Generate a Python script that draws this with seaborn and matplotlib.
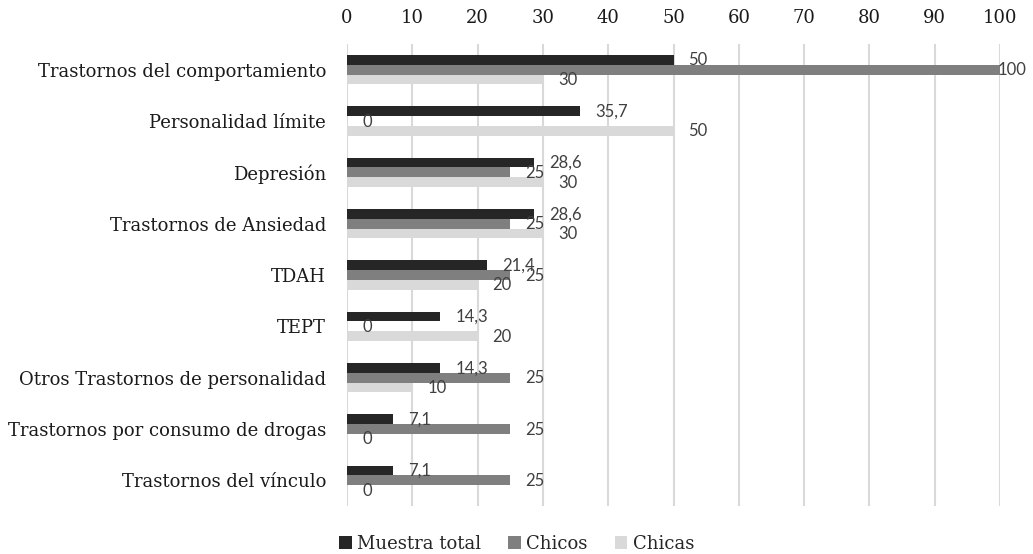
import matplotlib
matplotlib.use("Agg")
import matplotlib.pyplot as plt
import seaborn as sns
import pandas as pd

# Diagnoses and percentages per group
categories = [
    "Trastornos del comportamiento",
    "Personalidad límite",
    "Depresión",
    "Trastornos de Ansiedad",
    "TDAH",
    "TEPT",
    "Otros Trastornos de personalidad",
    "Trastornos por consumo de drogas",
    "Trastornos del vínculo",
]
muestra_total = [50, 35.7, 28.6, 28.6, 21.4, 14.3, 14.3, 7.1, 7.1]
chicos = [100, 0, 25, 25, 25, 0, 25, 25, 25]
chicas = [30, 50, 30, 30, 20, 20, 10, 0, 0]
groups = ["Muestra total", "Chicos", "Chicas"]
colors = ["#262626", "#7f7f7f", "#d9d9d9"]
x_ticks = list(range(0, 101, 10))

rows = []
for g, vals in zip(groups, [muestra_total, chicos, chicas]):
    for c, v in zip(categories, vals):
        rows.append({"Diagnóstico": c, "Grupo": g, "Valor": v})
df = pd.DataFrame(rows)

sns.set_theme(style="white")
serif = ["DejaVu Serif"]
sans = ["Lato", "DejaVu Sans"]

fig = plt.figure(figsize=(10.33, 5.54), dpi=100)
ax = fig.add_axes([0.3359, 0.0866, 0.6322, 0.834])

sns.barplot(data=df, y="Diagnóstico", x="Valor", hue="Grupo",
            order=categories, hue_order=groups, palette=colors,
            orient="h", width=0.57, gap=0, saturation=1, errorbar=None,
            linewidth=0, ax=ax, legend=True)

ax.set_xlim(0, 100)
ax.set_xticks(x_ticks)
ax.xaxis.tick_top()
ax.tick_params(axis="x", length=0, pad=12, labelsize=13, colors="#1a1a1a")
ax.tick_params(axis="y", length=0, pad=15, labelsize=13, colors="#1a1a1a")
for lab in ax.get_xticklabels() + ax.get_yticklabels():
    lab.set_family(serif)
ax.set_xlabel("")
ax.set_ylabel("")
ax.grid(axis="x", color="#d9d9d9", linewidth=1.5)
ax.set_axisbelow(True)
for s in ax.spines.values():
    s.set_visible(False)

# value labels at the end of each bar
for cont, vals in zip(ax.containers, [muestra_total, chicos, chicas]):
    for bar, v in zip(cont, vals):
        yc = bar.get_y() + bar.get_height() / 2
        xt = min(v + 2.3, 99.7)
        txt = ("%g" % v).replace(".", ",")
        ax.text(xt, yc + 0.01, txt, ha="left", va="center", fontsize=12,
                color="#404040", family=sans, clip_on=False)

handles, labels = ax.get_legend_handles_labels()
ax.legend_.remove()
fig.legend(handles, labels, loc="center", bbox_to_anchor=(0.5, 0.018),
           ncol=3, frameon=False, prop={"family": serif, "size": 13},
           handlelength=0.7, handleheight=0.7, handletextpad=0.3,
           columnspacing=1.5)

fig.savefig("out.png", dpi=100)
